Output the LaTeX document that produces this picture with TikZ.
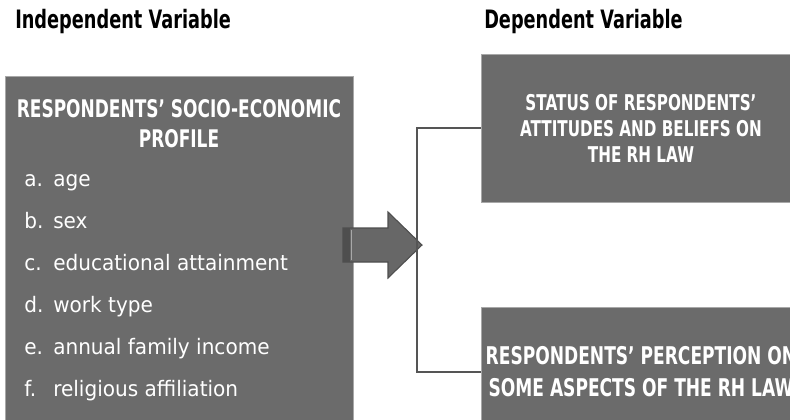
\documentclass[tikz,border=0pt]{standalone}
\usepackage{fontspec}
\setmainfont{DejaVu Sans}
\newfontfamily\headfont[FakeStretch=0.7]{DejaVu Sans}
\newfontfamily\itemfont[FakeStretch=0.94]{DejaVu Sans}
\usetikzlibrary{positioning}

\definecolor{boxgray}{HTML}{6B6B6B}
\definecolor{edgegray}{HTML}{A8A8A8}
\definecolor{arrowgray}{HTML}{676767}
\definecolor{arrowedge}{HTML}{4E4E4E}
\definecolor{linegray}{HTML}{555555}

\tikzset{
  varbox/.style={fill=boxgray, draw=edgegray, line width=0.6pt, inner sep=0pt, text=white, align=center},
  heading/.style={anchor=base west, inner sep=0pt, font=\headfont\bfseries\fontsize{19}{22}\selectfont},
  item/.style={anchor=base west, inner sep=0pt, text=white, font=\itemfont\fontsize{16}{18}\selectfont}
}

\begin{document}
\begin{tikzpicture}[x=0.75pt, y=-0.75pt]
  \useasboundingbox (0,0) rectangle (790,419);
  \clip (0,0) rectangle (790,419);
  % Headings
  \node[heading] (indep) at (15,28) {Independent Variable};
  \node[heading] (dep) at (484,28) {Dependent Variable};
  % Independent variable box
  \node[varbox, minimum width=261pt, minimum height=273pt] (profile) at (179,258) {};
  \node[anchor=base, inner sep=0pt, text=white, align=center, font=\headfont\bfseries\fontsize{18.2}{22.5}\selectfont] (title) at (179,147) {RESPONDENTS’ SOCIO-ECONOMIC\\PROFILE};
  \foreach \k/\lbl/\txt in {0/a/age, 1/b/sex, 2/c/educational attainment, 3/d/work type, 4/e/annual family income, 5/f/religious affiliation} {
    \node[item] (lbl-\lbl) at (24,{186+42*\k}) {\lbl.};
    \node[item] (item-\lbl) at (53,{186+42*\k}) {\txt};
  }
  % Dependent variable boxes
  \node[varbox, minimum width=240pt, minimum height=111pt, font=\headfont\bfseries\fontsize{16.3}{19.5}\selectfont] (status) at (641,128) {STATUS OF RESPONDENTS’\\ATTITUDES AND BELIEFS ON\\THE RH LAW};
  \node[varbox, minimum width=240pt, minimum height=97.5pt, font=\headfont\bfseries\fontsize{18.3}{24}\selectfont] (percep) at (641,372) {RESPONDENTS’ PERCEPTION ON\\SOME ASPECTS OF THE RH LAW};
  % Block arrow
  \filldraw[fill=arrowgray, draw=arrowedge, line width=0.8pt] (343,228) -- (388,228) -- (388,212) -- (422,245) -- (388,278) -- (388,262) -- (343,262) -- cycle;
  \fill[arrowedge] (343,228) rectangle (350,262);
  \draw[edgegray, line width=0.5pt] (351,230) -- (351,260);
  % Bracket to both outcomes
  \draw[linegray, line width=1.5pt] (status.west) -- ++(-64,0) |- (percep.west);
\end{tikzpicture}
\end{document}
